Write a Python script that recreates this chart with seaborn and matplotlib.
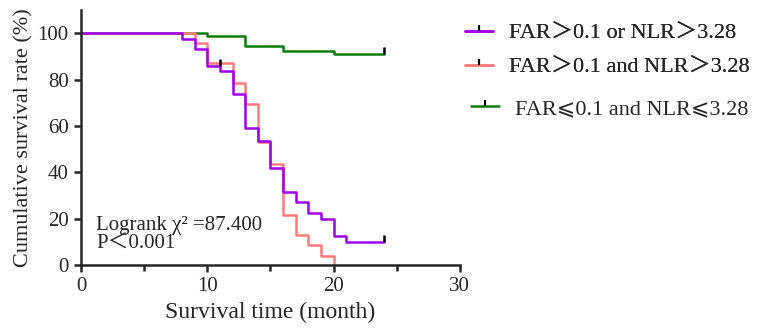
import numpy as np
import pandas as pd
import seaborn as sns
import matplotlib.pyplot as plt
from matplotlib.lines import Line2D
from matplotlib.ticker import MultipleLocator

# survival curves (time in months, survival in %)
t_or = [0, 8, 9, 10, 11, 12, 13, 14, 15, 16, 17, 18, 19, 20, 21, 24]
s_or = [100, 97.6, 93.0, 85.8, 83.6, 73.9, 59.0, 53.6, 41.7, 31.6, 27.2, 22.2, 19.6, 12.3, 9.9, 9.9]

t_and = [0, 9, 10, 12, 13, 14, 15, 16, 17, 18, 19, 20]
s_and = [100, 95.6, 87.0, 78.3, 69.6, 52.9, 43.5, 21.7, 13.0, 8.7, 3.9, 0]

t_low = [0, 10, 13, 16, 20, 24]
s_low = [100, 98.6, 94.5, 92.5, 90.9, 90.9]

# censor marks
cens_t = [11, 24, 24]
cens_s = [85.8, 9.9, 90.9]

labels = ["FAR\uff1e0.1 or NLR\uff1e3.28",
          "FAR\uff1e0.1 and NLR\uff1e3.28",
          "FAR\u2a7d0.1 and NLR\u2a7d3.28"]
colors = ["#A000F0", "#FF7A7A", "#0B7D0B"]

df = pd.concat([
    pd.DataFrame({"time": t_low, "surv": s_low, "group": labels[2]}),
    pd.DataFrame({"time": t_and, "surv": s_and, "group": labels[1]}),
    pd.DataFrame({"time": t_or, "surv": s_or, "group": labels[0]}),
])

sns.set_style("ticks")
fam = ["Liberation Serif", "Noto Sans CJK SC", "DejaVu Serif", "DejaVu Sans"]
plt.rcParams["font.family"] = fam

fig = plt.figure(figsize=(7.65, 3.34), dpi=100)
ax = fig.add_axes([0.106, 0.207, 0.495, 0.763])

pal = {labels[0]: colors[0], labels[1]: colors[1], labels[2]: colors[2]}
sns.lineplot(data=df, x="time", y="surv", hue="group", palette=pal,
             hue_order=[labels[2], labels[1], labels[0]],
             drawstyle="steps-post", estimator=None, sort=False,
             linewidth=1.8, legend=False, ax=ax)
ax.plot(cens_t, cens_s, ls="none", marker=2, color="k", ms=5, mew=1.8)

ax.set_xlim(0, 30)
ax.set_ylim(0, 110)
ax.xaxis.set_major_locator(MultipleLocator(10))
ax.xaxis.set_minor_locator(MultipleLocator(5))
ax.set_yticks([0, 20, 40, 60, 80, 100])
ax.tick_params(which="major", length=5, width=1.8, labelsize=15, direction="out", pad=4)
ax.tick_params(which="minor", length=4, width=1.8, direction="out")
for s in ["left", "bottom"]:
    ax.spines[s].set_linewidth(1.8)
sns.despine(ax=ax)

ax.set_xlabel("Survival time (month)", fontsize=17, labelpad=4)
ax.set_ylabel("Cumulative survival rate (%)", fontsize=16, labelpad=3)

ax.text(1.2, 5, "Logrank \u03c7\u00b2 =87.400\nP\uff1c0.001", fontsize=15,
        linespacing=0.95, va="bottom")

handles = [Line2D([], [], color=c, lw=1.8, marker=2, mec="k", ms=4, mew=1.5)
           for c in colors]
leg1 = fig.legend(handles[:2], labels[:2], loc="upper left",
                  bbox_to_anchor=(0.582, 0.99), frameon=False, fontsize=16,
                  handlelength=1.25, handletextpad=0.7, labelspacing=0.6,
                  numpoints=1)
fig.add_artist(leg1)
fig.legend(handles[2:], labels[2:], loc="upper left",
           bbox_to_anchor=(0.59, 0.765), frameon=False, fontsize=16,
           handlelength=1.25, handletextpad=0.7, numpoints=1)

fig.savefig("out.png", dpi=100)
